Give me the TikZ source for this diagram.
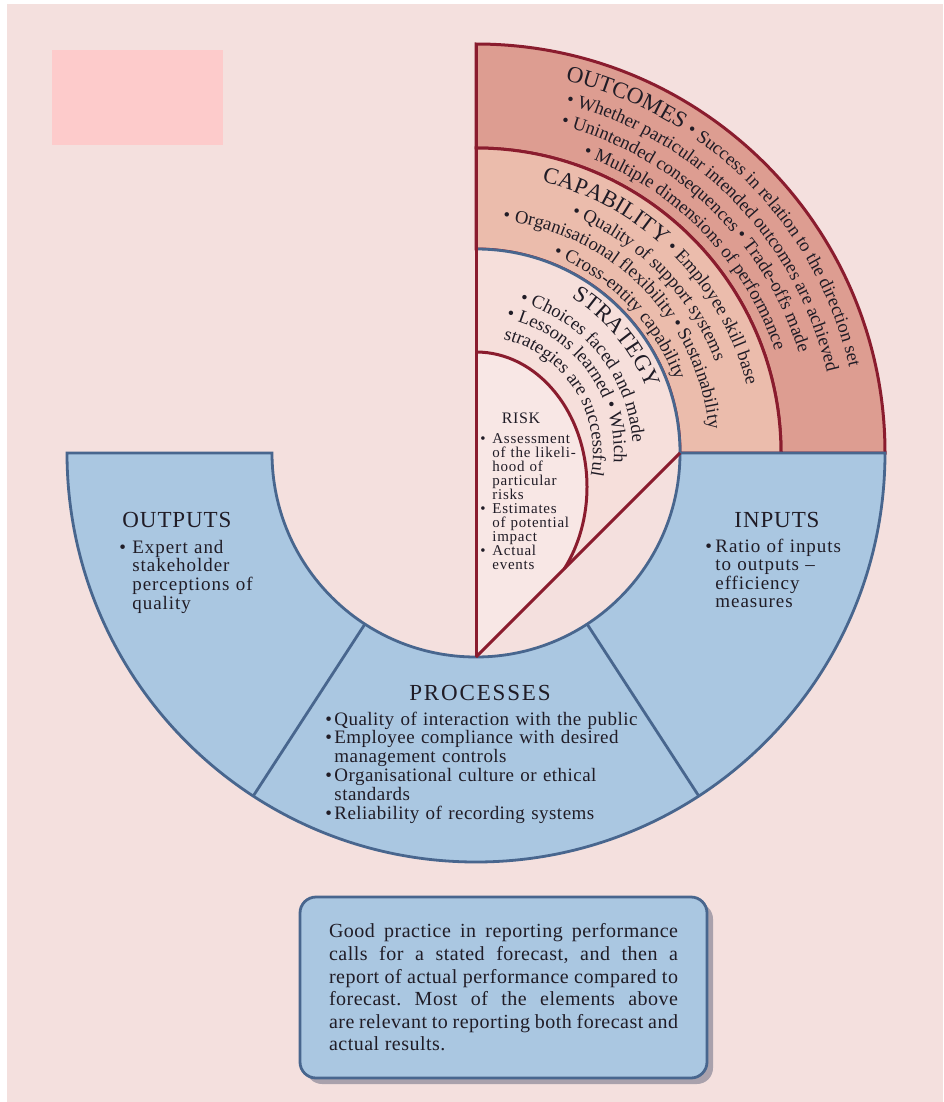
\documentclass[tikz,border=0pt]{standalone}
\usepackage{fontspec}
\setmainfont{Liberation Serif}
\newfontfamily\ttlfam[LetterSpace=4]{Liberation Serif}
\newfontfamily\procfam[LetterSpace=8]{Liberation Serif}
\newfontfamily\widefam[LetterSpace=5]{Liberation Serif}
\newfontfamily\midfam[LetterSpace=2.5]{Liberation Serif}
\usetikzlibrary{decorations.text,shadows}

\definecolor{pagebg}{RGB}{244,224,222}
\definecolor{tagpink}{RGB}{253,203,203}
\definecolor{ringblue}{RGB}{170,199,225}
\definecolor{edgeblue}{RGB}{72,102,142}
\definecolor{outfill}{RGB}{221,157,145}
\definecolor{capfill}{RGB}{235,188,172}
\definecolor{strfill}{RGB}{246,223,219}
\definecolor{riskfill}{RGB}{248,231,229}
\definecolor{edgered}{RGB}{138,28,46}
\definecolor{ink}{RGB}{32,28,38}
\definecolor{shadowgray}{RGB}{120,120,140}

\lineskiplimit=-20pt
\frenchspacing
% fonts for lettering set along the arcs
\newcommand\ttlarc{\fontsize{11.5}{12}\selectfont\color{ink}}
\newcommand\bodyarc{\fontsize{9.3}{10}\selectfont\color{ink}}
% bullet of a given width, and the matching indent
\newcommand\bl[1]{\leavevmode\hbox to #1{•\hss}}
\newcommand\ind[1]{\leavevmode\hbox to #1{\hss}}
% one line of text on an arc about the centre: radius, middle angle, half span, text
\newcommand\arcline[4]{%
  \path[decorate,decoration={text along path,text align=center,text={#4}}]
    ([shift={({#2-#3}:#1)}]C) arc[start angle={#2-#3},end angle={#2+#3},radius=#1];}

\begin{document}
\begin{tikzpicture}[x=0.5pt,y=-0.5pt,
  redline/.style={draw=edgered,line width=1.5pt},
  blueline/.style={draw=edgeblue,line width=1.4pt},
  ttl/.style={inner sep=0pt,anchor=base,text=ink,font=\ttlfam\fontsize{11.5}{12}\selectfont},
  blk/.style={inner sep=0pt,anchor=base west,text=ink,align=left},
  notebox/.style={draw=edgeblue,line width=1.4pt,fill=ringblue,rounded corners=8pt,
    text width=174.5pt,inner xsep=14.5pt,inner ysep=0pt,minimum height=90.5pt,
    align=justify,text=ink,font=\midfam\fontsize{10}{11.3}\selectfont,
    drop shadow={shadow xshift=3pt,shadow yshift=-3pt,fill=shadowgray,opacity=0.6}}]
\useasboundingbox (0,0) rectangle (943,1102);
\fill[white] (0,0) rectangle (943,1102);
\fill[pagebg] (7,4) rectangle (943,1102);
\fill[tagpink] (52,50) rectangle (223,145);

\coordinate (C) at (476,453);
\coordinate (bot) at ([shift={(90:204)}]C);
\coordinate (rt) at ([shift={(0:204)}]C);
\coordinate (top) at ([shift={(-90:409)}]C);

% outcomes ring
\filldraw[fill=outfill,redline] (top) arc[start angle=-90,end angle=0,radius=409]
  -- ([shift={(0:305)}]C) arc[start angle=0,end angle=-90,radius=305] -- cycle;
% capability ring
\filldraw[fill=capfill,redline] ([shift={(-90:305)}]C) arc[start angle=-90,end angle=0,radius=305]
  -- (rt) arc[start angle=0,end angle=-90,radius=204] -- cycle;
% strategy sector
\fill[strfill] ([shift={(-90:204)}]C) arc[start angle=-90,end angle=0,radius=204] -- (bot) -- cycle;
% risk lobe
\fill[riskfill] (476,352) arc[start angle=-90,end angle=37.2,x radius=111,y radius=135] -- (bot) -- cycle;
\draw[redline] (476,352) arc[start angle=-90,end angle=37.2,x radius=111,y radius=135];

% lower blue ring and its dividers
\filldraw[fill=ringblue,blueline] ([shift={(180:409)}]C) arc[start angle=180,end angle=0,radius=409]
  -- (rt) arc[start angle=0,end angle=180,radius=204] -- cycle;
\draw[blueline] ([shift={(123:204)}]C) -- ([shift={(123:409)}]C);
\draw[blueline] ([shift={(57:204)}]C) -- ([shift={(57:409)}]C);
\draw[blueline] ([shift={(-90:204)}]C) arc[start angle=-90,end angle=0,radius=204];

% red axis and diagonal
\draw[redline] (top) -- (bot);
\draw[redline] (rt) -- (bot);

% lettering on the arcs
\arcline{383}{-44.7}{55}{|\ttlarc|OUTCOMES |\bodyarc|• Success in relation to the direction set}
\arcline{360}{-44.2}{55}{|\bodyarc|• Whether particular intended outcomes are achieved}
\arcline{338}{-46.3}{55}{|\bodyarc|• Unintended consequences • Trade-offs made}
\arcline{316}{-44.5}{55}{|\bodyarc|• Multiple dimensions of performance}
\arcline{279}{-45.2}{55}{|\ttlarc|CAPABILITY |\bodyarc|• Employee skill base}
\arcline{256}{-44.5}{55}{|\bodyarc|• Quality of support systems}
\arcline{234}{-44.6}{55}{|\bodyarc|• Organisational flexibility • Sustainability}
\arcline{212}{-44.3}{55}{|\bodyarc|• Cross-entity capability}
\arcline{182}{-39.5}{55}{|\ttlarc|STRATEGY}
\arcline{157}{-38.8}{55}{|\bodyarc|• Choices faced and made}
\arcline{138}{-36.6}{55}{|\bodyarc|• Lessons learned • Which}
\arcline{117}{-32.7}{55}{|\bodyarc|strategies are successful}

% risk
\node[ttl,font=\ttlfam\fontsize{8}{8}\selectfont] (risk) at (521,423) {RISK};
\node[blk,text width=50pt,font=\widefam\fontsize{7.5}{7.05}\selectfont] (riskb) at (480,443)
  {\bl{6pt}Assessment\par\ind{6pt}of the likeli-\par\ind{6pt}hood of\par\ind{6pt}particular\par\ind{6pt}risks\par
   \bl{6pt}Estimates\par\ind{6pt}of potential\par\ind{6pt}impact\par\bl{6pt}Actual\par\ind{6pt}events};

% outputs
\node[ttl] (outputs) at (177,527) {OUTPUTS};
\node[blk,text width=90pt,font=\widefam\fontsize{9.5}{9.4}\selectfont] (outputsb) at (119,553)
  {\bl{6.5pt}Expert and\par\ind{6.5pt}stakeholder\par\ind{6.5pt}perceptions of\par\ind{6.5pt}quality};

% inputs
\node[ttl] (inputs) at (777,527) {INPUTS};
\node[blk,text width=90pt,font=\widefam\fontsize{9.5}{9.3}\selectfont] (inputsb) at (705,552)
  {\bl{5pt}Ratio of inputs\par\ind{5pt}to outputs –\par\ind{5pt}efficiency\par\ind{5pt}measures};

% processes
\node[ttl,font=\procfam\fontsize{11.5}{12}\selectfont] (processes) at (480,700) {PROCESSES};
\node[blk,text width=170pt,font=\midfam\fontsize{9.5}{9.45}\selectfont] (processesb) at (325,725)
  {\bl{4.5pt}Quality of interaction with the public\par
   \bl{4.5pt}Employee compliance with desired\par\ind{4.5pt}management controls\par
   \bl{4.5pt}Organisational culture or ethical\par\ind{4.5pt}standards\par
   \bl{4.5pt}Reliability of recording systems};

% note below the wheel
\node[notebox] (note) at (503.5,987.5)
  {Good practice in reporting performance\linebreak
   calls for a stated forecast, and then a\linebreak
   report of actual performance compared to\linebreak
   forecast. Most of the elements above\linebreak
   are relevant to reporting both forecast and\linebreak
   actual results.};
\end{tikzpicture}
\end{document}
